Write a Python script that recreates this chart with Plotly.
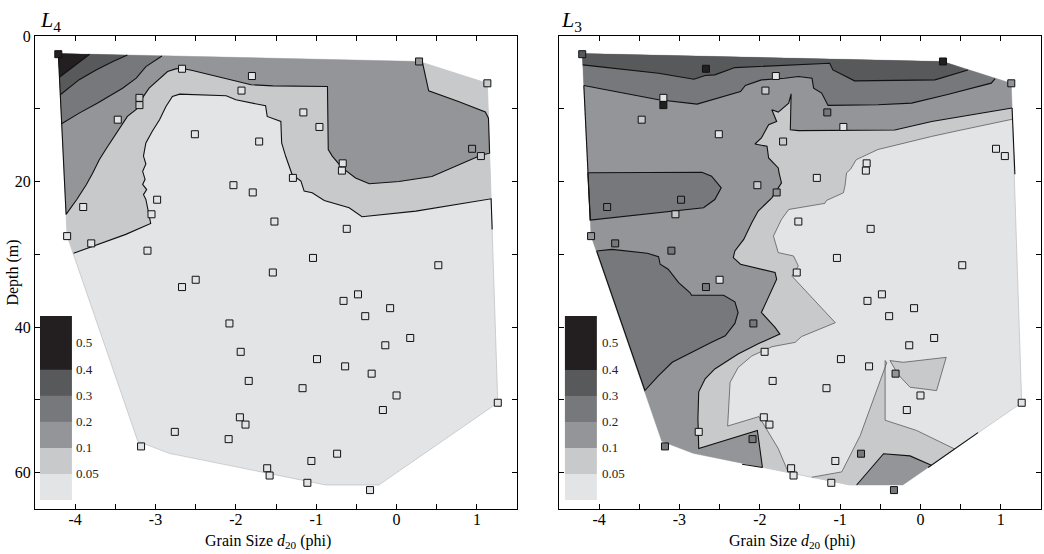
import plotly.graph_objects as go
from plotly.subplots import make_subplots

# ---- contour class limits and grey scale (lowest class first) ----
LEVELS = [0.05, 0.1, 0.2, 0.3, 0.4]
GREYS = ["#e3e4e6", "#c8c9cb", "#939598", "#77787b", "#58595b", "#231f20"]
LEGEND_LABELS = ["0.05", "0.1", "0.2", "0.3", "0.4", "0.5"]

# ---- samples: depth (m), grain size d20 (phi), value at L4 and L3 ----
depth = [2.5, 3.5, 4.5, 5.5, 6.5, 7.5, 8.5, 9.5, 10.5, 11.5, 12.5, 13.5, 14.5,
         15.5, 16.5, 17.5, 18.5, 19.5, 20.5, 21.5, 22.5, 23.5, 24.5, 25.5,
         26.5, 27.5, 28.5, 29.5, 30.5, 31.5, 32.5, 33.5, 34.5, 35.5, 36.4,
         37.4, 38.5, 39.5, 41.5, 42.5, 43.4, 44.4, 45.4, 46.4, 47.4, 48.4,
         49.4, 50.4, 51.4, 52.4, 53.4, 54.4, 55.4, 56.4, 57.4, 58.4, 59.4,
         60.4, 61.4, 62.4]
d20 = [-4.21, 0.28, -2.67, -1.80, 1.13, -1.93, -3.20, -3.20, -1.16, -3.47,
       -0.96, -2.51, -1.71, 0.94, 1.05, -0.67, -0.68, -1.29, -2.03, -1.79,
       -2.98, -3.90, -3.05, -1.52, -0.62, -4.10, -3.80, -3.10, -1.04, 0.52,
       -1.54, -2.50, -2.67, -0.48, -0.66, -0.08, -0.39, -2.08, 0.17, -0.14,
       -1.94, -0.99, -0.64, -0.31, -1.84, -1.17, 0.00, 1.26, -0.17, -1.95,
       -1.88, -2.76, -2.09, -3.18, -0.74, -1.06, -1.61, -1.58, -1.11, -0.33]
value_L4 = [0.45, 0.15, 0.03, 0.03, 0.07, 0.03, 0.07, 0.07, 0.03, 0.03,
            0.03, 0.02, 0.02, 0.15, 0.07, 0.03, 0.03, 0.02, 0.02, 0.02,
            0.02, 0.03, 0.03, 0.02, 0.02, 0.03, 0.03, 0.02, 0.02, 0.02,
            0.02, 0.02, 0.02, 0.02, 0.02, 0.02, 0.02, 0.02, 0.02, 0.02,
            0.02, 0.02, 0.02, 0.02, 0.02, 0.02, 0.02, 0.02, 0.02, 0.02,
            0.02, 0.02, 0.02, 0.02, 0.02, 0.02, 0.02, 0.02, 0.02, 0.02]
value_L3 = [0.35, 0.45, 0.45, 0.01, 0.15, 0.07, 0.01, 0.45, 0.25, 0.07,
            0.01, 0.01, 0.07, 0.03, 0.03, 0.03, 0.03, 0.02, 0.07, 0.15,
            0.25, 0.25, 0.07, 0.01, 0.01, 0.15, 0.25, 0.22, 0.01, 0.01,
            0.03, 0.01, 0.25, 0.03, 0.03, 0.03, 0.03, 0.22, 0.03, 0.03,
            0.01, 0.03, 0.03, 0.15, 0.01, 0.03, 0.03, 0.03, 0.03, 0.01,
            0.01, 0.01, 0.22, 0.25, 0.22, 0.01, 0.01, 0.01, 0.01, 0.22]

# ---- interpolation domain (d20, depth) ----
hull = [(-4.21, 2.4), (0.28, 3.5), (1.13, 6.5), (1.26, 50.4), (-0.22, 61.7),
        (-0.88, 61.7), (-2.83, 57.35), (-3.22, 55.7), (-4.10, 27.5)]

# ---- filled contour regions: (class index, contour path, closing rim, closed outline) ----
regions_L4 = [
    (1, [(-4.02, 29.86), (-3.70, 28.63), (-3.37, 27.26), (-3.06, 25.75), (-3.09, 24.3),
         (-3.12, 22.47), (-3.15, 21.8), (-3.11, 21.1), (-3.16, 20.4), (-3.13, 19.7),
         (-3.16, 18.6), (-3.12, 17.6), (-3.15, 16.5), (-3.12, 14.7), (-3.04, 13.1),
         (-2.95, 11.5), (-2.87, 9.68), (-2.79, 8.31), (-2.70, 7.99), (-2.12, 8.22),
         (-2.0, 8.77), (-1.63, 9.59), (-1.61, 11.05), (-1.44, 11.74), (-1.43, 14.7),
         (-1.38, 16.53), (-1.30, 19.04), (-1.19, 19.95), (-1.15, 21.32), (-1.05, 21.55),
         (-0.90, 22.6), (-0.59, 23.6), (-0.43, 24.84), (0.24, 24.06), (1.177, 22.37),
         (1.19, 26.6)],
     [(1.13, 6.5), (0.28, 3.5), (-4.21, 2.4), (-4.10, 27.5)], False),
    (2, [(-4.21, 2.4), (-4.113, 24.52), (-3.98, 22.47), (-3.86, 20.41), (-3.78, 18.8),
         (-3.70, 17.0), (-3.62, 15.6), (-3.51, 13.8), (-3.43, 12.4), (-3.35, 11.05),
         (-3.24, 10.1), (-3.18, 8.77), (-3.08, 7.17), (-2.95, 5.8), (-2.85, 4.89),
         (-2.75, 4.52), (-2.68, 4.43), (-2.54, 4.75), (-2.04, 6.03), (-1.81, 6.7),
         (-1.54, 6.85), (-0.86, 6.94), (-0.85, 15.6), (-0.80, 16.5), (-0.68, 18.1),
         (-0.51, 19.5), (-0.34, 20.3), (0.03, 20.0), (0.44, 19.3), (0.77, 17.7),
         (1.05, 16.4), (1.158, 16.1), (1.144, 11.3), (1.105, 10.45), (0.77, 9.0),
         (0.40, 7.53), (0.36, 5.34), (0.32, 3.52), (0.29, 3.5)],
     [], False),
    (3, [(-2.92, 2.74), (-3.12, 4.2), (-3.24, 5.8), (-3.41, 7.17), (-3.72, 9.22),
         (-3.95, 10.6), (-4.17, 12.05)],
     [(-4.21, 2.4)], False),
    (4, [(-3.35, 2.61), (-3.53, 3.5), (-3.74, 4.66), (-3.95, 6.0), (-4.185, 8.08)],
     [(-4.21, 2.4)], False),
    (5, [(-3.82, 2.5), (-4.196, 5.66)], [(-4.21, 2.4)], False),
]

regions_L3 = [
    (1, [(1.151, 11.42), (0.80, 12.19), (0.43, 13.1), (0.14, 13.8), (-0.28, 14.93),
         (-0.53, 15.6), (-0.80, 17.0), (-0.87, 18.3), (-0.92, 18.8), (-0.94, 20.64),
         (-0.96, 21.55), (-1.17, 22.6), (-1.19, 23.0), (-1.64, 23.84), (-1.73, 25.2),
         (-1.83, 27.5), (-1.77, 29.77), (-1.58, 30.23), (-1.52, 31.6), (-1.60, 33.0),
         (-1.06, 39.4), (-1.48, 41.3), (-1.56, 42.1), (-1.85, 42.7), (-2.10, 43.97),
         (-2.27, 45.57), (-2.37, 47.6), (-2.40, 53.6), (-2.01, 52.3), (-1.77, 56.7),
         (-1.644, 60.0)],
     [(-2.83, 57.35), (-3.22, 55.7), (-4.10, 27.5), (-4.21, 2.4), (0.28, 3.5), (1.13, 6.5)],
     False),
    (1, [(-1.354, 60.64), (-0.98, 59.9), (-0.75, 54.9), (-0.42, 44.9), (-0.44, 44.6),
         (-0.44, 52.8), (-0.05, 54.2), (0.427, 56.76)],
     [(-0.22, 61.7), (-0.88, 61.7)], False),
    (1, [(-0.38, 44.6), (-0.215, 44.84), (0.32, 44.16), (0.20, 48.73), (-0.13, 48.27),
         (-0.28, 46.5), (-0.38, 44.6)],
     [], True),
    (2, [(1.14, 9.9), (0.62, 10.9), (0.14, 11.74), (-0.32, 12.92), (-1.52, 13.0),
         (-1.62, 12.88), (-1.61, 7.95), (-1.64, 9.22), (-1.77, 10.46), (-1.85, 10.14),
         (-1.79, 11.74), (-1.89, 12.19), (-1.98, 14.02), (-2.06, 14.84), (-1.91, 15.16),
         (-1.89, 16.76), (-1.77, 18.13), (-1.76, 18.8), (-1.73, 20.18), (-1.85, 22.24),
         (-2.02, 24.06), (-2.10, 25.66), (-2.20, 27.95), (-2.31, 29.54), (-2.33, 30.46),
         (-2.24, 31.37), (-1.81, 32.51), (-1.79, 33.42), (-1.98, 38.0), (-1.81, 40.05),
         (-1.75, 40.96), (-2.02, 42.3), (-2.27, 43.7), (-2.56, 45.75), (-2.68, 47.1),
         (-2.76, 48.9), (-2.77, 52.6), (-2.76, 56.7), (-2.03, 54.2), (-1.967, 59.3)],
     [(-2.83, 57.35), (-3.22, 55.7), (-4.10, 27.5), (-4.21, 2.4), (0.28, 3.5), (1.13, 6.5)],
     False),
    (2, [(-0.795, 61.7), (-0.46, 57.4), (-0.13, 57.7), (0.136, 59.0)],
     [(-0.22, 61.7)], False),
    (3, [(-4.19, 6.8), (-3.84, 7.53), (-3.26, 8.77), (-2.78, 9.36), (-2.56, 8.63),
         (-2.24, 7.63), (-2.18, 6.8), (-1.98, 6.03), (-1.69, 5.8), (-1.52, 5.57),
         (-1.35, 5.8), (-1.33, 7.17), (-1.23, 7.85), (-1.15, 9.54), (-0.53, 9.45),
         (-0.11, 9.22), (0.35, 8.0), (0.88, 6.48), (0.93, 5.85)],
     [(0.28, 3.5), (-4.21, 2.4)], False),
    (3, [(-4.14, 18.8), (-2.72, 18.72), (-2.60, 19.27), (-2.48, 20.87), (-2.56, 22.47),
         (-2.70, 23.6), (-4.11, 25.3), (-4.14, 18.8)],
     [], True),
    (3, [(-4.03, 29.54), (-3.84, 29.32), (-3.40, 29.86), (-3.26, 30.32), (-3.24, 31.37),
         (-3.14, 32.05), (-3.01, 33.88), (-2.87, 35.25), (-2.85, 35.62), (-2.45, 35.62),
         (-2.31, 36.53), (-2.27, 38.0), (-2.31, 39.5), (-2.43, 41.19), (-2.60, 42.1),
         (-2.85, 43.47), (-3.09, 44.84), (-3.26, 46.67), (-3.43, 48.72), (-4.03, 29.54)],
     [], True),
    (4, [(-4.203, 3.97), (-3.67, 4.66), (-3.26, 5.11), (-2.82, 5.94), (-2.68, 5.43),
         (-2.56, 5.34), (-2.31, 4.34), (-1.13, 3.74), (-1.09, 4.66), (-0.82, 6.16),
         (0.18, 6.03), (0.59, 4.66)],
     [(0.28, 3.5), (-4.21, 2.4)], False),
]

# contour lines that run along the domain edge
edge_lines_L3 = [
    [(-4.19, 6.8), (-4.11, 25.3)],
    [(1.14, 9.9), (1.175, 19.0)],
    [(-2.22, 58.86), (-1.967, 59.3)],
    [(0.095, 59.3), (0.716, 54.5)],
]

FONT = "Liberation Serif, Times New Roman, serif"


def grey_for(v):
    for i, lim in enumerate(LEVELS):
        if v < lim:
            return GREYS[i]
    return GREYS[-1]


fig = make_subplots(rows=1, cols=2, horizontal_spacing=0.0416)


def draw_panel(col, regions, edges, values, thin_lowest):
    hx = [p[0] for p in hull] + [hull[0][0]]
    hy = [p[1] for p in hull] + [hull[0][1]]
    fig.add_trace(go.Scatter(x=hx, y=hy, mode="lines", fill="toself",
                             fillcolor=GREYS[0], line=dict(color="#b4b5b7", width=0.6),
                             hoverinfo="skip", showlegend=False), row=1, col=col)
    for cls, path, rim, _closed in regions:
        pts = path + rim
        fig.add_trace(go.Scatter(x=[p[0] for p in pts], y=[p[1] for p in pts],
                                 mode="lines", fill="toself", fillcolor=GREYS[cls],
                                 line=dict(width=0), hoverinfo="skip", showlegend=False),
                      row=1, col=col)
    for cls, path, rim, _closed in regions:
        if cls == 1 and thin_lowest:
            lc, lw = "#4a4a4a", 0.7
        else:
            lc, lw = "#111111", 1.1
        fig.add_trace(go.Scatter(x=[p[0] for p in path], y=[p[1] for p in path],
                                 mode="lines", line=dict(color=lc, width=lw),
                                 hoverinfo="skip", showlegend=False), row=1, col=col)
    for seg in edges:
        fig.add_trace(go.Scatter(x=[p[0] for p in seg], y=[p[1] for p in seg],
                                 mode="lines", line=dict(color="#111111", width=1.1),
                                 hoverinfo="skip", showlegend=False), row=1, col=col)
    fig.add_trace(go.Scatter(x=d20, y=depth, mode="markers",
                             marker=dict(symbol="square", size=7,
                                         color=[grey_for(v) for v in values],
                                         line=dict(color="#111111", width=1)),
                             hoverinfo="skip", showlegend=False), row=1, col=col)


draw_panel(1, regions_L4, [], value_L4, False)
draw_panel(2, regions_L3, edge_lines_L3, value_L3, True)

# ---- axes ----
xt = [-4 + 0.5 * i for i in range(12)]
xl = [str(int(v)) if v == int(v) else " " for v in xt]
yt = [0, 10, 20, 30, 40, 50, 60]
for col in (1, 2):
    fig.update_xaxes(range=[-4.5, 1.5], tickvals=xt, ticktext=xl, ticks="inside",
                     ticklen=5, tickwidth=1, tickcolor="black", showline=True,
                     linecolor="black", linewidth=1, mirror="ticks", showgrid=False,
                     zeroline=False, ticklabelstandoff=-4,
                     tickfont=dict(family=FONT, size=16, color="black"),
                     row=1, col=col)
    fig.update_yaxes(range=[65, 0], tickvals=yt,
                     ticktext=["0", " ", "20", " ", "40", " ", "60"],
                     showticklabels=(col == 1),
                     ticks="inside", ticklen=5, tickwidth=1, tickcolor="black",
                     showline=True, linecolor="black", linewidth=1, mirror="ticks",
                     showgrid=False, zeroline=False,
                     tickfont=dict(family=FONT, size=16, color="black"), row=1, col=col)

# ---- class legend drawn inside each panel ----
band_edges = [0.019, 0.074, 0.129, 0.184, 0.239, 0.294, 0.351, 0.408]
label_y = [0.074, 0.129, 0.184, 0.239, 0.294, 0.351]
shapes = []
annotations = []
for axis_id, bx0, bx1, tx in (("", 0.0104, 0.0766, 0.081), ("2", 0.0124, 0.0787, 0.085)):
    for i in range(7):
        shapes.append(dict(type="rect", xref=f"x{axis_id} domain", yref=f"y{axis_id} domain",
                           x0=bx0, x1=bx1, y0=band_edges[i], y1=band_edges[i + 1],
                           fillcolor=GREYS[min(i, 5)], line=dict(width=0), layer="above"))
    for lab, yy in zip(LEGEND_LABELS, label_y):
        annotations.append(dict(text=lab, xref=f"x{axis_id} domain", yref=f"y{axis_id} domain",
                                x=tx, y=yy, xanchor="left", yanchor="middle", showarrow=False,
                                font=dict(family=FONT, size=13, color="#222222")))

# ---- titles ----
annotations += [
    dict(text="<i>L</i><sub>4</sub>", xref="paper", yref="paper", x=0.003, y=1.032,
         xanchor="left", yanchor="middle", showarrow=False,
         font=dict(family=FONT, size=22, color="black")),
    dict(text="<i>L</i><sub>3</sub>", xref="paper", yref="paper", x=0.5208, y=1.032,
         xanchor="left", yanchor="middle", showarrow=False,
         font=dict(family=FONT, size=22, color="black")),
    dict(text="Depth (m)", xref="paper", yref="paper", x=-0.0228, y=0.5, textangle=-90,
         xanchor="center", yanchor="middle", showarrow=False,
         font=dict(family=FONT, size=16, color="black")),
    dict(text="Grain Size <i>d</i><sub>20</sub> (phi)", xref="paper", yref="paper",
         x=0.232, y=-0.068, xanchor="center", yanchor="middle", showarrow=False,
         font=dict(family=FONT, size=16, color="black")),
    dict(text="Grain Size <i>d</i><sub>20</sub> (phi)", xref="paper", yref="paper",
         x=0.752, y=-0.068, xanchor="center", yanchor="middle", showarrow=False,
         font=dict(family=FONT, size=16, color="black")),
]

fig.update_layout(width=1044, height=554, margin=dict(l=35, r=1, t=36, b=45),
                  paper_bgcolor="white", plot_bgcolor="white", showlegend=False,
                  shapes=shapes, annotations=annotations)
fig.update_xaxes(domain=[0, 0.4792], row=1, col=1)
fig.update_xaxes(domain=[0.5208, 1.0], row=1, col=2)

fig.write_html("out.html")
